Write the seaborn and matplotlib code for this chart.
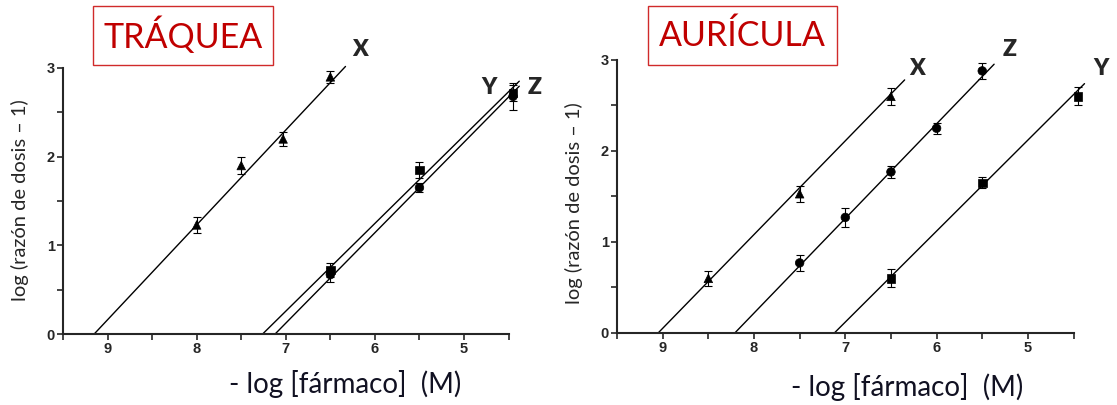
import pandas as pd
import matplotlib.pyplot as plt
import seaborn as sns
from matplotlib.patches import Rectangle

# ---- data ----
# Tráquea (left panel): -log[drug] and log(dose ratio - 1), with error bars
traq_x_dose = [8.0, 7.5, 7.03, 6.5]
traq_x_resp = [1.23, 1.90, 2.20, 2.90]
traq_x_err = [0.09, 0.10, 0.08, 0.07]
traq_y_dose = [6.5, 5.5, 4.45]
traq_y_resp = [0.72, 1.85, 2.72]
traq_y_err = [0.08, 0.09, 0.09]
traq_z_dose = [6.5, 5.5, 4.45]
traq_z_resp = [0.67, 1.65, 2.68]
traq_z_err = [0.08, 0.05, 0.15]

# Aurícula (right panel)
auri_x_dose = [8.5, 7.5, 6.5]
auri_x_resp = [0.60, 1.53, 2.60]
auri_x_err = [0.08, 0.09, 0.09]
auri_z_dose = [7.5, 7.0, 6.5, 6.0, 5.5]
auri_z_resp = [0.77, 1.27, 1.77, 2.25, 2.88]
auri_z_err = [0.09, 0.10, 0.07, 0.06, 0.09]
auri_y_dose = [6.5, 5.5, 4.45]
auri_y_resp = [0.60, 1.65, 2.60]
auri_y_err = [0.10, 0.06, 0.10]

# Schild regression lines: x-intercept (pA2), slope, last x
traq_lines = {'X': (9.15, 1.07, 6.33), 'Y': (7.26, 0.99, 4.38), 'Z': (7.12, 1.02, 4.38)}
auri_lines = {'X': (9.05, 1.03, 6.35), 'Z': (8.21, 1.04, 5.37), 'Y': (7.12, 1.00, 4.38)}

# label letter positions (data coords)
traq_labels = {'X': (6.17, 3.21), 'Y': (4.72, 2.78), 'Z': (4.21, 2.78)}
auri_labels = {'X': (6.21, 2.91), 'Z': (5.20, 3.12), 'Y': (4.20, 2.91)}

x_ticks = [9, 8, 7, 6, 5]
y_ticks = [0, 1, 2, 3]

markers = {'X': '^', 'Y': 's', 'Z': 'o'}

sns.set_style('ticks')
plt.rcParams['font.family'] = ['Lato', 'DejaVu Sans']


def make_df(series):
    rows = []
    for name, (dose, resp, err) in series.items():
        for d, r, e in zip(dose, resp, err):
            rows.append({'dose': d, 'resp': r, 'err': e, 'antag': name})
    return pd.DataFrame(rows)


def line_df(lines):
    rows = []
    for name, (x0, slope, x1) in lines.items():
        rows.append({'dose': x0, 'resp': 0.0, 'antag': name})
        rows.append({'dose': x1, 'resp': slope * (x0 - x1), 'antag': name})
    return pd.DataFrame(rows)


def draw_panel(ax, df, lines, labels):
    ldf = line_df(lines)
    sns.lineplot(data=ldf, x='dose', y='resp', units='antag', estimator=None,
                 color='black', lw=1.0, ax=ax, clip_on=False)
    ax.errorbar(df['dose'], df['resp'], yerr=df['err'], fmt='none',
                ecolor='black', elinewidth=0.8, capsize=3, capthick=0.8,
                clip_on=False)
    sns.scatterplot(data=df, x='dose', y='resp', style='antag', markers=markers,
                    color='black', s=38, edgecolor='black', linewidth=0.5,
                    legend=False, ax=ax, clip_on=False, zorder=4)
    for name, (lx, ly) in labels.items():
        ax.text(lx, ly, name, fontsize=16.5, fontweight='heavy', ha='center',
                va='center', family=['Lato', 'DejaVu Sans'])
    ax.set_xlim(9.5, 4.5)
    ax.set_ylim(0, 3)
    ax.set_xticks(x_ticks)
    ax.set_xticklabels([str(t) for t in x_ticks], fontsize=10.5, fontweight='bold',
                       family=['Liberation Sans', 'DejaVu Sans'])
    ax.set_xticks([9.5, 8.5, 7.5, 6.5, 5.5, 4.5], minor=True)
    ax.set_yticks(y_ticks)
    ax.set_yticklabels([str(t) for t in y_ticks], fontsize=10.5, fontweight='bold',
                       family=['Liberation Sans', 'DejaVu Sans'])
    ax.set_yticks([0.5, 1.5, 2.5], minor=True)
    ax.tick_params(which='both', direction='out', length=4, width=1.2, pad=2)
    sns.despine(ax=ax)
    for sp in ['left', 'bottom']:
        ax.spines[sp].set_linewidth(1.5)
    ax.set_xlabel('- log [fármaco]  (M)', fontsize=20, color='#111122')
    ax.set_ylabel('log (razón de dosis – 1)', fontsize=14.5)


fig = plt.figure(figsize=(11.17, 4.05), dpi=100)
ax1 = fig.add_axes([0.0564, 0.1753, 0.3989, 0.6568])
ax2 = fig.add_axes([0.5524, 0.1778, 0.4087, 0.6741])

traq_df = make_df({'X': (traq_x_dose, traq_x_resp, traq_x_err),
                   'Y': (traq_y_dose, traq_y_resp, traq_y_err),
                   'Z': (traq_z_dose, traq_z_resp, traq_z_err)})
auri_df = make_df({'X': (auri_x_dose, auri_x_resp, auri_x_err),
                   'Z': (auri_z_dose, auri_z_resp, auri_z_err),
                   'Y': (auri_y_dose, auri_y_resp, auri_y_err)})

draw_panel(ax1, traq_df, traq_lines, traq_labels)
draw_panel(ax2, auri_df, auri_lines, auri_labels)

ax1.yaxis.set_label_coords(-0.076, 0.504)
ax2.yaxis.set_label_coords(-0.074, 0.476)
ax1.xaxis.set_label_coords(0.633, -0.135)
ax2.xaxis.set_label_coords(0.635, -0.147)

# red title boxes
W, H = 1117, 405
for (x0, y0, x1, y1), title in [((93, 6, 273, 65), 'TRÁQUEA'),
                                ((648, 6, 837, 65), 'AURÍCULA')]:
    fig.patches.append(Rectangle((x0 / W, 1 - y1 / H), (x1 - x0) / W, (y1 - y0) / H,
                                 transform=fig.transFigure, fill=False,
                                 edgecolor='#d02a2a', linewidth=1.0))
    fig.text((x0 + x1) / 2 / W, 1 - (y0 + y1) / 2 / H, title, color='#c00000',
             fontsize=24.5, ha='center', va='center')

fig.savefig('out.png', dpi=100)
